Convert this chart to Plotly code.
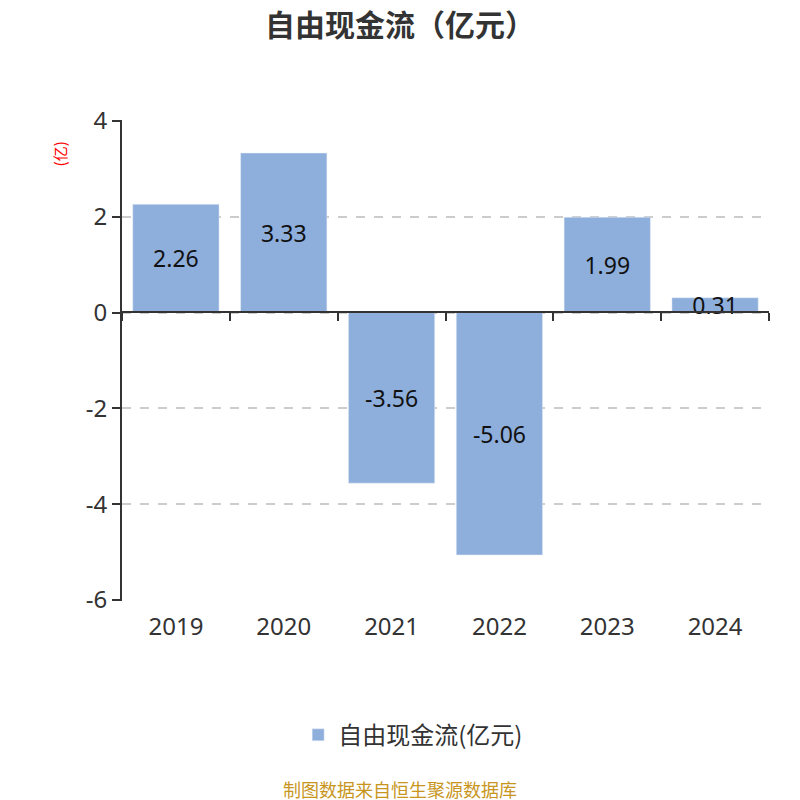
import plotly.graph_objects as go

years = ["2019", "2020", "2021", "2022", "2023", "2024"]
fcf = [2.26, 3.33, -3.56, -5.06, 1.99, 0.31]
fcf_labels = ["2.26", "3.33", "-3.56", "-5.06", "1.99", "0.31"]
y_ticks = [-6, -4, -2, 0, 2, 4]
y_tick_text = ["-6", "-4", "-2", "0", "2", "4"]

FONT = "Noto Sans, Noto Sans CJK SC, sans-serif"
CJK = "Noto Sans CJK SC, sans-serif"
BAR_COLOR = "#8eaedb"

fig = go.Figure()
fig.add_trace(go.Bar(
    x=years, y=fcf, name="自由现金流(亿元)",
    marker=dict(color=BAR_COLOR),
    text=fcf_labels, textposition="inside", insidetextanchor="middle",
    constraintext="none",
    textfont=dict(size=23, color="#111111", family=FONT),
    hoverinfo="x+y",
))
# invisible trace so the zero-line axis (with boundary ticks) is drawn
fig.add_trace(go.Scatter(x=years, y=[0] * len(years), xaxis="x2", mode="markers",
                         marker=dict(opacity=0), showlegend=False, hoverinfo="skip"))

# the page adds an 8px body margin, so margins are shifted to compensate
fig.update_layout(
    width=800, height=800,
    paper_bgcolor="white", plot_bgcolor="white",
    margin=dict(l=114, r=39, t=112, b=207, autoexpand=False),
    font=dict(family=FONT, color="#333333"),
    title=dict(text="<b>自由现金流（亿元）</b>", x=0.49, xanchor="center",
               y=0.978, yanchor="middle",
               font=dict(size=30, color="#333333", family=CJK)),
    bargap=0.2,
    showlegend=True,
    legend=dict(orientation="h", x=0.45, xanchor="center", y=-0.279, yanchor="middle",
                font=dict(size=24, color="#333333", family=CJK)),
    xaxis=dict(showline=False, ticks="", tickfont=dict(size=24, color="#333333"),
               ticklabelstandoff=9,
               showgrid=False, zeroline=False, automargin=False),
    xaxis2=dict(overlaying="x", anchor="free", position=0.6008, side="bottom",
                matches="x", showline=True, linecolor="#333333", linewidth=2,
                ticks="outside", tickson="boundaries", ticklen=8, tickwidth=2,
                tickcolor="#333333", showticklabels=False, showgrid=False),
    yaxis=dict(range=[-6.02, 4.02], tickvals=y_ticks, ticktext=y_tick_text,
               showline=True, linecolor="#333333", linewidth=2,
               ticks="outside", ticklen=8, tickwidth=2, tickcolor="#333333",
               tickfont=dict(size=24, color="#333333"), automargin=False,
               showgrid=True, gridcolor="#cccccc", griddash="dash", gridwidth=1.5,
               zeroline=False),
    annotations=[
        dict(text="(亿)", xref="paper", yref="paper", x=-0.097, y=0.929,
             xanchor="center", yanchor="middle",
             showarrow=False, textangle=-90, font=dict(size=15, color="red", family=CJK)),
        dict(text="制图数据来自恒生聚源数据库", xref="paper", yref="paper", x=0.43, y=-0.391,
             xanchor="center", yanchor="middle", showarrow=False,
             font=dict(size=18, color="#c8961e", family=CJK)),
    ],
)

fig.write_html("out.html")
